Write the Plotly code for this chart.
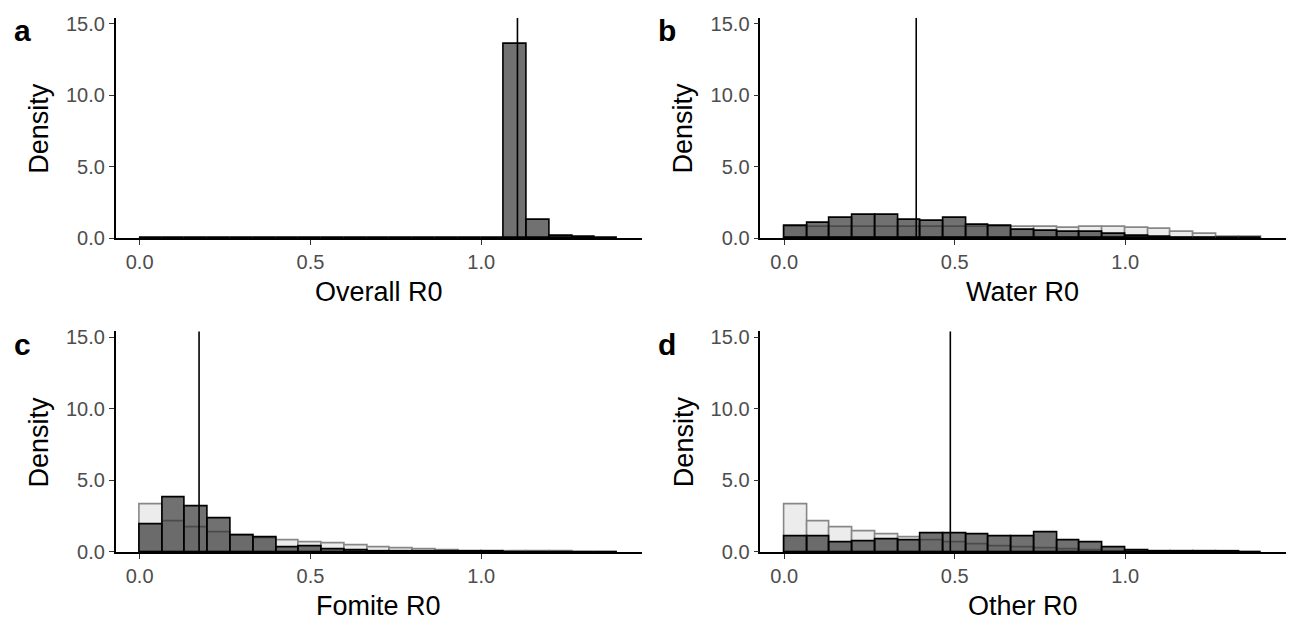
import plotly.graph_objects as go

# ---------------- data ----------------
BIN_WIDTH = 1 / 15
BIN_LEFT = [0/15, 1/15, 2/15, 3/15, 4/15, 5/15, 6/15, 7/15, 8/15, 9/15, 10/15,
            11/15, 12/15, 13/15, 14/15, 15/15, 16/15, 17/15, 18/15, 19/15, 20/15]

panel_letters = ["a", "b", "c", "d"]
x_titles = ["Overall R0", "Water R0", "Fomite R0", "Other R0"]

# posterior (dark) histograms, density per bin
overall_post = [0, 0, 0, 0, 0, 0, 0, 0, 0, 0, 0, 0, 0, 0, 0, 0,
                13.6, 1.27, 0.13, 0.08, 0.03]
water_post = [0.88, 1.07, 1.42, 1.63, 1.60, 1.28, 1.22, 1.38, 0.95, 0.86, 0.60,
              0.54, 0.43, 0.43, 0.27, 0.16, 0.09, 0.05, 0.03, 0.02, 0.01]
fomite_post = [1.90, 3.79, 3.20, 2.36, 1.18, 1.04, 0.32, 0.36, 0.18, 0.14, 0.07,
               0.05, 0.03, 0.02, 0.01, 0.01, 0.0, 0.0, 0.0, 0.0, 0.0]
other_post = [1.08, 1.08, 0.65, 0.72, 0.88, 0.80, 1.30, 1.28, 1.25, 1.07, 1.06,
              1.37, 0.80, 0.70, 0.30, 0.11, 0.04, 0.02, 0.01, 0.01, 0.0]

# prior (light) histograms
water_prior = [0.79, 0.81, 0.80, 0.78, 0.80, 0.82, 0.79, 0.80, 0.78, 0.80, 0.81,
               0.77, 0.75, 0.77, 0.81, 0.75, 0.63, 0.45, 0.29, 0.11, 0.07]
fomite_prior = [3.31, 2.13, 1.68, 1.38, 1.15, 0.97, 0.84, 0.66, 0.60, 0.43, 0.34,
                0.25, 0.17, 0.11, 0.07, 0.04, 0.02, 0.01, 0.01, 0.0, 0.0]
other_prior = [3.30, 2.13, 1.70, 1.43, 1.22, 1.04, 0.78, 0.65, 0.52, 0.40, 0.30,
               0.22, 0.16, 0.11, 0.07, 0.04, 0.02, 0.01, 0.01, 0.0, 0.0]

# vertical reference lines (point estimates)
ref_lines = [1.106, 0.387, 0.174, 0.487]

x_tickvals = [0.0, 0.5, 1.0]
x_ticktext = ["0.0", "0.5", "1.0"]
y_tickvals = [0, 5, 10, 15]
y_ticktext = ["0.0", "5.0", "10.0", "15.0"]

posts = [overall_post, water_post, fomite_post, other_post]
priors = [None, water_prior, fomite_prior, other_prior]

# ---------------- layout geometry (pixels) ----------------
W, H = 1291, 628
FONT = "Liberation Sans, Arial, sans-serif"
col_x = [(115.7, 641.8), (760.4, 1285.5)]
row_y = [(13.3, 239.3), (335.0, 561.3)]

def px_x(p):
    return p / W

def px_y(p):
    return 1 - p / H

centers = [b + BIN_WIDTH / 2 for b in BIN_LEFT]

fig = go.Figure()
layout_axes = {}
annotations = []
shapes = []

for i in range(4):
    r, c = divmod(i, 2)
    xn = "" if i == 0 else str(i + 1)
    xa, ya = "x" + xn, "y" + xn
    if priors[i] is not None:
        fig.add_trace(go.Bar(
            x=centers, y=priors[i], width=BIN_WIDTH, xaxis=xa, yaxis=ya,
            marker=dict(color="rgb(236,236,236)",
                        line=dict(color="rgb(135,135,135)", width=1.6)),
            showlegend=False, hoverinfo="skip"))
    fig.add_trace(go.Bar(
        x=centers, y=posts[i], width=BIN_WIDTH, xaxis=xa, yaxis=ya,
        marker=dict(color="rgba(45,45,45,0.68)",
                    line=dict(color="black", width=1.6)),
        showlegend=False, hoverinfo="skip"))

    x0, x1 = col_x[c]
    yt, yb = row_y[r]
    common = dict(showgrid=False, zeroline=False, showline=True,
                  linecolor="black", linewidth=1.7, ticks="outside",
                  ticklen=5, tickwidth=1.4, tickcolor="#333333",
                  tickfont=dict(family=FONT, size=20, color="#4D4D4D"),
                  fixedrange=True)
    layout_axes["xaxis" + xn] = dict(
        domain=[px_x(x0), px_x(x1)], range=[-0.07, 1.47], anchor=ya,
        tickvals=x_tickvals, ticktext=x_ticktext, **common)
    layout_axes["yaxis" + xn] = dict(
        domain=[px_y(yb), px_y(yt)], range=[0, 15.39], anchor=xa,
        tickvals=y_tickvals, ticktext=y_ticktext, **common)

    shapes.append(dict(type="line", xref=xa, yref=ya + " domain",
                       x0=ref_lines[i], x1=ref_lines[i], y0=0, y1=1,
                       line=dict(color="black", width=1.6), layer="above"))

    # x title
    annotations.append(dict(
        text=x_titles[i], xref="paper", yref="paper",
        x=px_x((x0 + x1) / 2), y=px_y(yb + 38), xanchor="center", yanchor="top",
        showarrow=False, font=dict(family=FONT, size=27, color="black")))
    # y title
    annotations.append(dict(
        text="Density", xref="paper", yref="paper", textangle=-90,
        x=px_x(x0 - 77), y=px_y((yt + yb) / 2), xanchor="center", yanchor="middle",
        showarrow=False, font=dict(family=FONT, size=27, color="black")))
    # panel letter
    annotations.append(dict(
        text="<b>" + panel_letters[i] + "</b>", xref="paper", yref="paper",
        x=px_x(x0 - 104), y=px_y(yt - 6), xanchor="left", yanchor="top",
        showarrow=False, font=dict(family=FONT, size=30, color="black")))

fig.update_layout(
    width=W, height=H, margin=dict(l=0, r=0, t=0, b=0),
    paper_bgcolor="white", plot_bgcolor="white", barmode="overlay",
    bargap=0, annotations=annotations, shapes=shapes, **layout_axes)

fig.write_html("out.html", config={"displayModeBar": False},
               post_script="document.body.style.margin='0';document.body.style.overflow='hidden';")
